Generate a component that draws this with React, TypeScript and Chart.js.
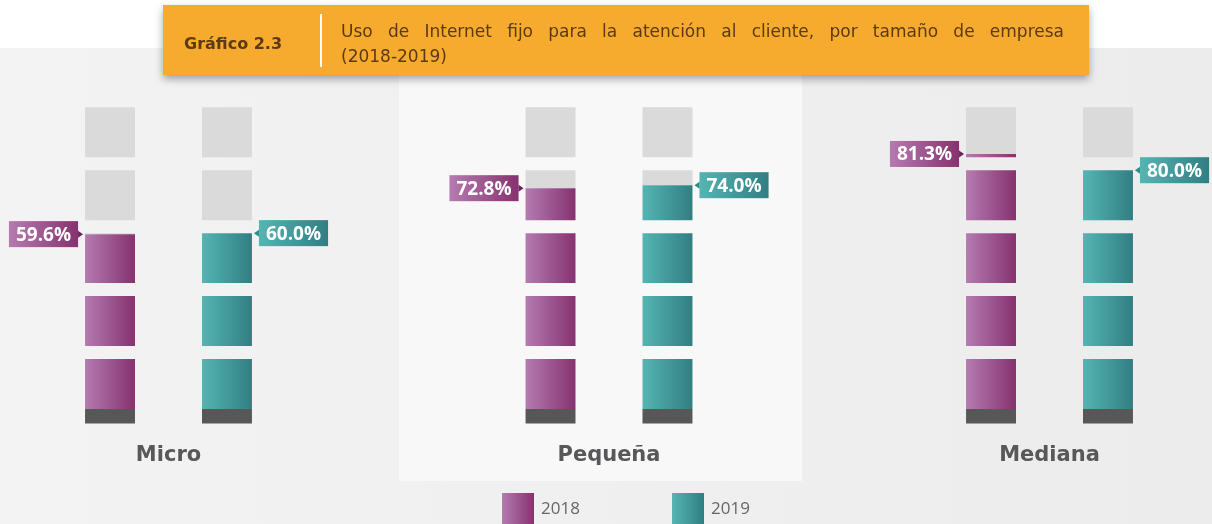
import React, { useEffect, useRef } from 'react';
import { Chart, registerables } from 'chart.js';

Chart.register(...registerables);

// ---------- data ----------
const categories = ['Micro', 'Pequeña', 'Mediana'];
const seriesLabels = ['2018', '2019'];
const values2018 = [59.6, 72.8, 81.3];
const values2019 = [60.0, 74.0, 80.0];
const blocksPerBar = 5; // every block stands for 20 %

// ---------- look ----------
const WIDTH = 1212;
const HEIGHT = 524;
const BLOCK_STEP = 100 / blocksPerBar; // 20 axis units per block (block + gap)
const BLOCK_FILL = (BLOCK_STEP * 50) / 63; // visible block height in axis units
const BASE = 4.6; // dark plinth under each column
const CAT_PCT = 0.531;
const BAR_PCT = 0.427;

const palette = [
  { light: '#b57bb0', dark: '#86326f', arrow: '#6a2463' },
  { light: '#55b5b2', dark: '#317e82', arrow: '#2b8b8b' },
];

function barGradient(c: any, s: number) {
  const p = palette[s];
  const chart = c.chart;
  const x = chart && chart.scales && chart.scales.x;
  if (!c || c.type !== 'data' || !x) return p.dark;
  const i = c.dataIndex;
  const p0 = x.getPixelForValue(0);
  const p1 = x.getPixelForValue(1);
  const pi = x.getPixelForValue(i);
  if (![p0, p1, pi].every((n) => Number.isFinite(n)) || p1 === p0) return p.dark;
  const step = p1 - p0;
  const stackW = (step * CAT_PCT) / 2;
  const cx = pi + (s === 0 ? -0.5 : 0.5) * stackW;
  const w = stackW * BAR_PCT;
  if (!Number.isFinite(cx) || !Number.isFinite(w) || w <= 0) return p.dark;
  const g = chart.ctx.createLinearGradient(cx - w / 2, 0, cx + w / 2, 0);
  g.addColorStop(0, p.light);
  g.addColorStop(1, p.dark);
  return g;
}

function buildDatasets() {
  const series = [values2018, values2019];
  const ds: any[] = [];
  series.forEach((vals, s) => {
    const stack = seriesLabels[s];
    ds.push({
      label: stack + ' base',
      stack,
      data: vals.map(() => -BASE),
      backgroundColor: '#575757',
    });
    for (let k = 0; k < blocksPerBar; k++) {
      const fill = vals.map(
        (v) => Math.min(Math.max((v - k * BLOCK_STEP) / BLOCK_STEP, 0), 1) * BLOCK_FILL
      );
      ds.push({
        label: stack,
        stack,
        data: fill,
        backgroundColor: (c: any) => barGradient(c, s),
      });
      ds.push({
        label: stack + ' empty',
        stack,
        data: fill.map((f) => BLOCK_FILL - f),
        backgroundColor: '#dadada',
      });
      if (k < blocksPerBar - 1) {
        ds.push({
          label: stack + ' gap',
          stack,
          data: vals.map(() => BLOCK_STEP - BLOCK_FILL),
          backgroundColor: 'rgba(0,0,0,0)',
        });
      }
    }
  });
  return ds.map((d) => ({ ...d, clip: false, borderWidth: 0 }));
}

const tagPlugin = {
  id: 'valueTags',
  afterDatasetsDraw(chart: any) {
    const ctx = chart.ctx;
    const yScale = chart.scales.y;
    [values2018, values2019].forEach((vals, s) => {
      const p = palette[s];
      const dsIndex = chart.data.datasets.findIndex((d: any) => d.stack === seriesLabels[s]);
      const meta = chart.getDatasetMeta(dsIndex);
      vals.forEach((v, i) => {
        const bar = meta.data[i];
        if (!bar) return;
        const { x, width } = bar.getProps(['x', 'width'], true);
        let k = Math.floor(v / BLOCK_STEP);
        let frac = (v - k * BLOCK_STEP) / BLOCK_STEP;
        if (frac < 1e-9 && k > 0) {
          k -= 1;
          frac = 1;
        }
        const level = k * BLOCK_STEP + frac * BLOCK_FILL;
        const py = yScale.getPixelForValue(level);
        if (![x, width, py].every((n) => Number.isFinite(n))) return;
        const text = v.toFixed(1) + '%';
        ctx.save();
        ctx.font = 'bold 19px "Open Sans"';
        const tw = ctx.measureText(text).width;
        const w = tw + 14;
        const h = 26;
        const gap = 7;
        const left = s === 0 ? x - width / 2 - gap - w : x + width / 2 + gap;
        const top = py - h / 2;
        const g = ctx.createLinearGradient(left, 0, left + w, 0);
        g.addColorStop(0, p.light);
        g.addColorStop(1, p.dark);
        ctx.fillStyle = g;
        ctx.fillRect(left, top, w, h);
        ctx.fillStyle = p.arrow;
        ctx.beginPath();
        if (s === 0) {
          ctx.moveTo(left + w, py - 3.5);
          ctx.lineTo(left + w + 5, py);
          ctx.lineTo(left + w, py + 3.5);
        } else {
          ctx.moveTo(left, py - 3.5);
          ctx.lineTo(left - 5, py);
          ctx.lineTo(left, py + 3.5);
        }
        ctx.closePath();
        ctx.fill();
        ctx.fillStyle = '#ffffff';
        ctx.textAlign = 'center';
        ctx.textBaseline = 'middle';
        ctx.fillText(text, left + w / 2, py + 1);
        ctx.restore();
      });
    });
  },
};

export default function App() {
  const canvasRef = useRef<HTMLCanvasElement>(null);

  useEffect(() => {
    if (!canvasRef.current) return;
    const chart = new Chart(canvasRef.current, {
      type: 'bar',
      data: { labels: categories, datasets: buildDatasets() },
      options: {
        animation: false,
        responsive: false,
        maintainAspectRatio: false,
        events: [],
        datasets: { bar: { categoryPercentage: CAT_PCT, barPercentage: BAR_PCT } },
        layout: { padding: { top: 81.7, bottom: 35.4, left: 168.5, right: 162.5 } },
        plugins: {
          legend: { display: false },
          tooltip: { enabled: false },
          title: { display: false },
        },
        scales: {
          x: {
            offset: false,
            grid: { display: false, drawTicks: false },
            border: { display: false },
            ticks: {
              padding: 20,
              maxRotation: 0,
              autoSkip: false,
              color: '#58585a',
              font: { family: 'DejaVu Sans', size: 21, weight: 'bold' },
            },
          },
          y: {
            display: false,
            stacked: true,
            min: -BASE,
            max: 104,
          },
        },
      },
      plugins: [tagPlugin],
    });
    return () => chart.destroy();
  }, []);

  const textColor = '#5b3a14';

  return (
    <div
      style={{
        position: 'fixed',
        left: 0,
        top: 0,
        width: WIDTH,
        height: HEIGHT,
        overflow: 'hidden',
        background: 'linear-gradient(to right, #f3f3f3, #ececec)',
        fontFamily: '"DejaVu Sans", sans-serif',
      }}
    >
      <div style={{ position: 'absolute', left: 0, top: 0, width: WIDTH, height: 48, background: '#ffffff' }} />
      <div style={{ position: 'absolute', left: 399, top: 60, width: 403, height: 421, background: '#f8f8f8' }} />
      <canvas
        ref={canvasRef}
        width={WIDTH}
        height={HEIGHT}
        style={{ position: 'absolute', left: 0, top: 0, width: WIDTH, height: HEIGHT }}
      />
      <div
        style={{
          position: 'absolute',
          left: 163,
          top: 5,
          width: 926,
          height: 70,
          background: '#f6ab2e',
          boxShadow: '0 4px 8px rgba(0,0,0,0.35)',
          color: textColor,
        }}
      >
        <div
          style={{
            position: 'absolute',
            left: 21,
            top: 0,
            height: 76,
            display: 'flex',
            alignItems: 'center',
            fontWeight: 700,
            fontSize: 16,
          }}
        >
          Gráfico 2.3
        </div>
        <div style={{ position: 'absolute', left: 157, top: 9, width: 2, height: 53, background: '#ffffff' }} />
        <div style={{ position: 'absolute', left: 178, top: 14, width: 723, fontSize: 17, lineHeight: '25px' }}>
          <div style={{ textAlign: 'justify', textAlignLast: 'justify' as any }}>
            Uso de Internet fijo para la atención al cliente, por tamaño de empresa
          </div>
          <div>(2018-2019)</div>
        </div>
      </div>
      {seriesLabels.map((l, s) => (
        <div
          key={l}
          style={{ position: 'absolute', left: s === 0 ? 502 : 672, top: 493, display: 'flex' }}
        >
          <div
            style={{
              width: 32,
              height: 32,
              background: `linear-gradient(to right, ${palette[s].light}, ${palette[s].dark})`,
            }}
          />
          <span
            style={{
              marginLeft: 7,
              fontSize: 17,
              color: '#666666',
              lineHeight: '30px',
              fontFamily: '"Open Sans", sans-serif',
            }}
          >
            {l}
          </span>
        </div>
      ))}
    </div>
  );
}
